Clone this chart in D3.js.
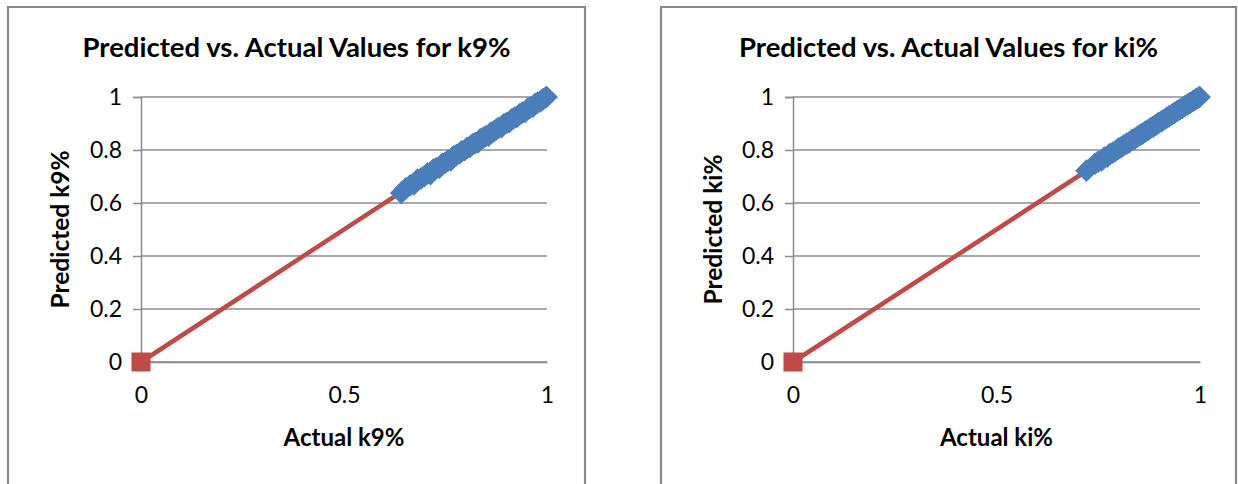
<!DOCTYPE html>
<html>
<head>
<meta charset="utf-8">
<script src="https://cdn.jsdelivr.net/npm/d3@7/dist/d3.min.js"></script>
<style>
  html, body { margin: 0; padding: 0; background: #fff; }
  svg { display: block; font-family: Lato, "Open Sans", sans-serif; }
</style>
</head>
<body>
<svg id="chart" width="1238" height="484"></svg>
<script>
// Axis ticks
const yTicks = [0, 0.2, 0.4, 0.6, 0.8, 1];
const xTicks = [0, 0.5, 1];

// k9% — actual vs. predicted
const k9Actual = [0.641, 0.652, 0.663, 0.672, 0.681, 0.690, 0.698, 0.706, 0.713, 0.720,
  0.727, 0.735, 0.742, 0.749, 0.756, 0.763, 0.770, 0.777, 0.784, 0.790, 0.797, 0.803,
  0.810, 0.817, 0.823, 0.830, 0.836, 0.843, 0.849, 0.856, 0.862, 0.869, 0.875, 0.881,
  0.888, 0.894, 0.901, 0.907, 0.914, 0.920, 0.926, 0.933, 0.939, 0.946, 0.952, 0.958,
  0.965, 0.971, 0.977, 0.984, 0.990, 0.996, 0.999];
const k9Predicted = [0.638, 0.655, 0.667, 0.670, 0.688, 0.693, 0.701, 0.712, 0.709, 0.726,
  0.731, 0.733, 0.748, 0.752, 0.760, 0.761, 0.776, 0.781, 0.787, 0.795, 0.799, 0.808,
  0.812, 0.822, 0.826, 0.829, 0.841, 0.846, 0.852, 0.854, 0.866, 0.870, 0.878, 0.884,
  0.886, 0.898, 0.903, 0.905, 0.917, 0.922, 0.925, 0.936, 0.941, 0.944, 0.955, 0.960,
  0.963, 0.974, 0.979, 0.983, 0.992, 0.997, 1.000];

// ki% — actual vs. predicted
const kiActual = [0.721, 0.742, 0.750, 0.758, 0.765, 0.772, 0.779, 0.786, 0.793, 0.800,
  0.806, 0.813, 0.820, 0.826, 0.833, 0.840, 0.846, 0.853, 0.859, 0.866, 0.872, 0.879,
  0.885, 0.892, 0.898, 0.905, 0.911, 0.918, 0.924, 0.931, 0.937, 0.944, 0.950, 0.957,
  0.963, 0.970, 0.976, 0.983, 0.989, 0.995, 0.999];
const kiPredicted = [0.722, 0.748, 0.756, 0.761, 0.771, 0.775, 0.786, 0.790, 0.797, 0.806,
  0.810, 0.818, 0.824, 0.829, 0.838, 0.843, 0.850, 0.857, 0.862, 0.870, 0.875, 0.883,
  0.888, 0.895, 0.902, 0.908, 0.914, 0.921, 0.927, 0.934, 0.940, 0.947, 0.953, 0.959,
  0.966, 0.972, 0.978, 0.985, 0.991, 0.996, 1.000];

// Reference line y = x, with a marker at its origin
const refLine = [0, 1];
const refMarkers = [0];

const panels = [
  { title: "Predicted vs. Actual Values for k9%", xTitle: "Actual k9%", yTitle: "Predicted k9%",
    actual: k9Actual, predicted: k9Predicted,
    frame: [8, 585], plotX: [141, 547] },
  { title: "Predicted vs. Actual Values for ki%", xTitle: "Actual ki%", yTitle: "Predicted ki%",
    actual: kiActual, predicted: kiPredicted,
    frame: [661, 1236], plotX: [793, 1200] }
];

const svg = d3.select("#chart");
const plotY = [362, 97];
const gridColor = "#8c8c8c";
const blue = "#4a7ebb";
const red = "#be4b48";

panels.forEach(p => {
  const g = svg.append("g");

  // Chart frame (open at the bottom edge of the page)
  g.append("path")
    .attr("d", `M${p.frame[0]},${500}V${7}H${p.frame[1]}V${500}`)
    .attr("fill", "none").attr("stroke", "#888").attr("stroke-width", 2.2);

  const x = d3.scaleLinear().domain([0, 1]).range(p.plotX);
  const y = d3.scaleLinear().domain([0, 1]).range(plotY);

  // Horizontal gridlines
  g.append("g").selectAll("line").data(yTicks).join("line")
    .attr("x1", x(0)).attr("x2", x(1))
    .attr("y1", d => y(d)).attr("y2", d => y(d))
    .attr("stroke", gridColor).attr("stroke-width", 1.5);

  // Y axis
  const yAxis = g.append("g").attr("transform", `translate(${x(0)},0)`)
    .call(d3.axisLeft(y).tickValues(yTicks).tickSize(8).tickPadding(11)
      .tickFormat(d => d3.format("")(+d.toFixed(1))));
  yAxis.select(".domain").attr("stroke", gridColor).attr("stroke-width", 1.5);
  yAxis.selectAll(".tick line").attr("stroke", gridColor).attr("stroke-width", 1.5);
  yAxis.selectAll(".tick text").attr("font-size", 23).attr("fill", "#000")
    .attr("font-family", "Lato, sans-serif");

  // X axis
  const xAxis = g.append("g").attr("transform", `translate(0,${y(0)})`)
    .call(d3.axisBottom(x).tickValues(xTicks).tickSize(0).tickPadding(25)
      .tickFormat(d => String(d)));
  xAxis.select(".domain").attr("stroke", gridColor).attr("stroke-width", 1.5);
  xAxis.selectAll(".tick text").attr("font-size", 23).attr("fill", "#000")
    .attr("font-family", "Lato, sans-serif");

  // Titles
  const cx = (p.frame[0] + p.frame[1]) / 2;
  g.append("text").attr("x", cx).attr("y", 57).attr("text-anchor", "middle")
    .attr("font-size", 27.5).attr("font-weight", "bold").text(p.title);
  g.append("text").attr("x", (x(0) + x(1)) / 2).attr("y", 446).attr("text-anchor", "middle")
    .attr("font-size", 24).attr("font-weight", "bold").text(p.xTitle);
  g.append("text")
    .attr("transform", `translate(${p.frame[0] + 61},${(y(0) + y(1)) / 2}) rotate(-90)`)
    .attr("text-anchor", "middle").attr("font-size", 24.5).attr("font-weight", "bold")
    .text(p.yTitle);

  // Reference line y = x with square marker
  g.append("path")
    .datum(refLine)
    .attr("d", d3.line().x(d => x(d)).y(d => y(d)))
    .attr("stroke", red).attr("stroke-width", 4.5).attr("fill", "none");
  g.append("g").selectAll("rect").data(refMarkers).join("rect")
    .attr("x", d => x(d) - 9.5).attr("y", d => y(d) - 9.5)
    .attr("width", 19).attr("height", 19).attr("fill", red);

  // Predicted vs. actual points (diamonds)
  const diamond = d3.symbol().type(d3.symbolSquare).size(256);
  g.append("g").selectAll("path").data(p.actual.map((a, i) => [a, p.predicted[i]])).join("path")
    .attr("d", diamond)
    .attr("transform", d => `translate(${x(d[0])},${y(d[1])}) rotate(45)`)
    .attr("fill", blue);
});
</script>
</body>
</html>
